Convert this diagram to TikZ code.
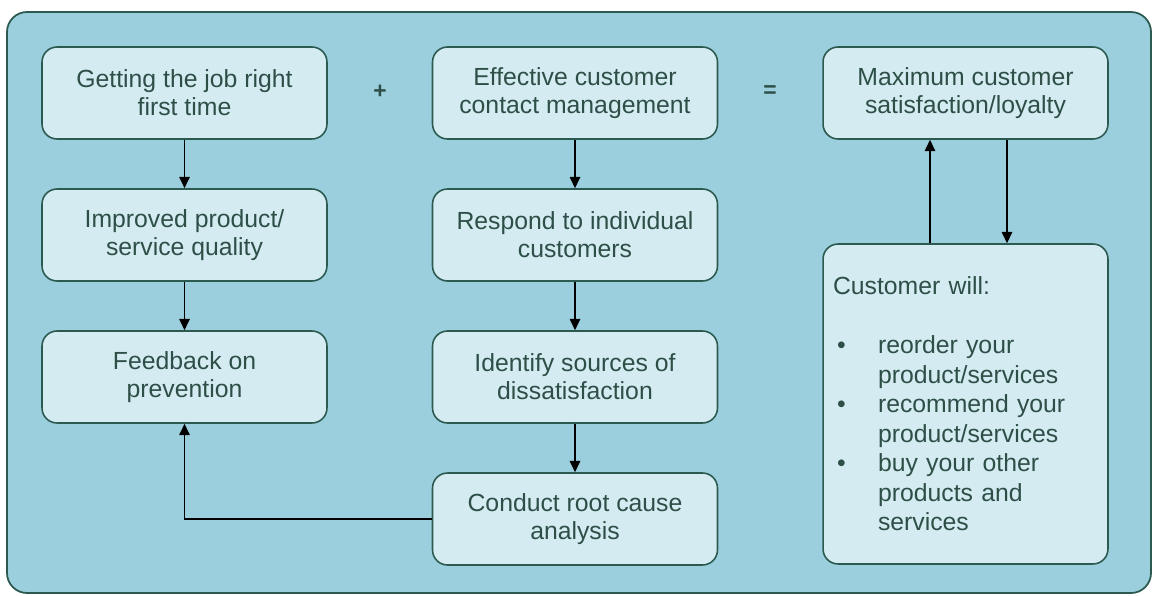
\documentclass[tikz,border=0pt]{standalone}
\usepackage{fontspec}
\setmainfont{Liberation Sans}
\usetikzlibrary{arrows.meta}

\definecolor{panelbg}{HTML}{9BCFDD}
\definecolor{boxfill}{HTML}{D4ECF1}
\definecolor{boxline}{HTML}{2C5A50}
\definecolor{txtcol}{HTML}{2E4F47}

\begin{document}
\begin{tikzpicture}[x=0.02cm,y=-0.02cm,
  stagebox/.style={draw=boxline,fill=boxfill,line width=0.9pt,rounded corners=0.3cm,
    minimum width=5.7cm,minimum height=1.84cm,align=center,text=txtcol,
    font=\fontsize{14.1}{16}\selectfont},
  flow/.style={-{Triangle[width=6pt,length=6.5pt]},line width=0.8pt,black}]
\useasboundingbox (0,0) rectangle (1152,595);

% outer panel:
\draw[boxline,fill=panelbg,line width=1pt,rounded corners=0.4cm] (7,12) rectangle (1151,593);

% left column:
\node[stagebox] (job) at (184.5,93) {Getting the job right\\first time};
\node[stagebox] (quality) at (184.5,235) {Improved product/\\service quality};
\node[stagebox] (feedback) at (184.5,377) {Feedback on\\prevention};

% middle column:
\node[stagebox] (contact) at (575,93) {Effective customer\\contact management};
\node[stagebox] (respond) at (575,235) {Respond to individual\\customers};
\node[stagebox] (identify) at (575,377) {Identify sources of\\dissatisfaction};
\node[stagebox] (rootcause) at (575,519) {Conduct root cause\\analysis};

% right column:
\node[stagebox] (loyalty) at (965.5,93) {Maximum customer\\satisfaction/loyalty};
\node[stagebox,minimum height=6.4cm,text width=5.3cm,align=left,inner sep=0.2cm,
  font=\fontsize{14.1}{16.8}\selectfont] (custwill) at (965.5,404)
  {Customer will:\\[16.8pt]
   \hspace*{0.08cm}\makebox[0.82cm][l]{\textbullet}reorder your\\
   \hspace*{0.9cm}product/services\\
   \hspace*{0.08cm}\makebox[0.82cm][l]{\textbullet}recommend your\\
   \hspace*{0.9cm}product/services\\
   \hspace*{0.08cm}\makebox[0.82cm][l]{\textbullet}buy your other\\
   \hspace*{0.9cm}products and\\
   \hspace*{0.9cm}services};

% operators:
\node[text=txtcol,font=\fontsize{13}{15}\bfseries] (plus) at (380,92) {+};
\node[text=txtcol,font=\fontsize{13}{15}\bfseries] (equals) at (770,92) {=};

% connectors:
\draw[flow] (job) -- (quality);
\draw[flow] (quality) -- (feedback);
\draw[flow] (contact) -- (respond);
\draw[flow] (respond) -- (identify);
\draw[flow] (identify) -- (rootcause);
\draw[flow] (rootcause.west) -| (feedback.south);
\draw[flow] (custwill.north -| 930,0) -- (loyalty.south -| 930,0);
\draw[flow] (loyalty.south -| 1007,0) -- (custwill.north -| 1007,0);

\end{tikzpicture}
\end{document}
